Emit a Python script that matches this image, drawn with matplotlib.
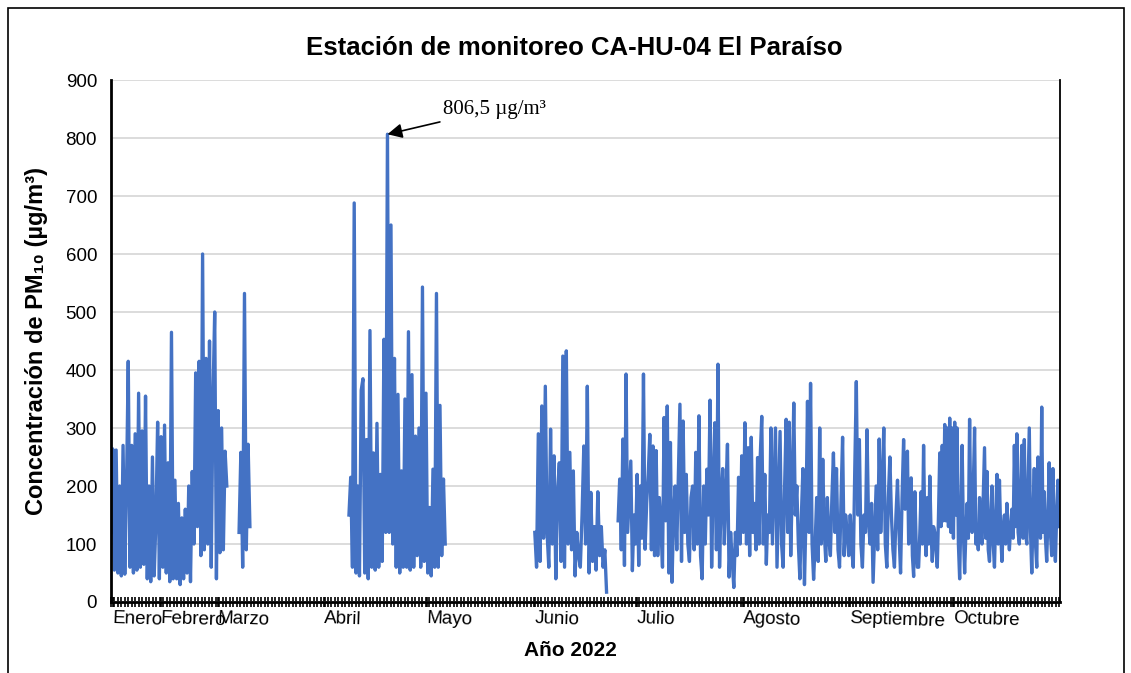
import numpy as np
import matplotlib.pyplot as plt
from matplotlib.patches import Rectangle

plt.rcParams['font.family'] = ['Liberation Sans', 'DejaVu Sans']

# Concentraciones PM10 (ug/m3), por tramos con datos
ene_feb = [120, 264, 55, 262, 50, 200, 45, 270, 48, 200, 415, 60, 270, 50, 290, 55,
           360, 60, 295, 65, 355, 40, 200, 35, 250, 45, 140, 310, 40, 285, 60, 305,
           50, 240, 35, 465, 40, 210, 40, 170, 30, 145, 40, 160, 50, 200, 35, 225,
           100, 395, 130, 415, 80, 600, 90, 420, 100, 450, 60, 350, 500, 40, 330, 85,
           300, 90, 260, 200]
marzo = [120, 258, 60, 532, 90, 272, 130]
abr_may = [150, 215, 60, 688, 50, 200, 45, 365, 385, 50, 280, 40, 468, 60, 257, 55,
           308, 60, 220, 70, 453, 120, 806.5, 120, 650, 100, 420, 60, 358, 50, 226, 60,
           350, 60, 466, 55, 392, 60, 286, 80, 300, 60, 543, 70, 360, 50, 163, 45,
           229, 60, 532, 60, 339, 80, 212, 100]
junio = [120, 60, 290, 70, 338, 110, 372, 120, 60, 298, 100, 252, 40, 190, 240, 70,
         424, 60, 433, 100, 258, 90, 226, 45, 120, 80, 60, 150, 269, 100, 372, 50,
         189, 70, 130, 55, 190, 80, 130, 60, 90, 17]
jul_ago = [140, 212, 90, 281, 63, 393, 120, 180, 243, 54, 150, 100, 220, 63, 200, 110,
           393, 91, 170, 220, 289, 90, 269, 80, 261, 80, 180, 130, 60, 318, 140, 338,
           50, 275, 34, 150, 200, 90, 220, 341, 70, 312, 120, 220, 100, 70, 180, 200,
           90, 258, 100, 321, 80, 40, 200, 100, 229, 150, 348, 60, 200, 309, 90, 410,
           60, 180, 230, 100, 190, 272, 43, 120, 70, 25, 120, 80, 215, 100, 252, 120,
           309, 100, 266, 80, 284, 120, 170, 90, 249, 100]
ago_sep = [250, 320, 100, 220, 65, 150, 120, 300, 100, 200, 300, 60, 180, 294, 100, 60,
           200, 315, 120, 310, 80, 200, 343, 150, 200, 100, 40, 150, 230, 30, 150, 346,
           120, 377, 100, 39, 100, 180, 70, 300, 100, 246, 120, 70, 180, 110, 80, 180,
           257, 120, 230, 90, 60, 180, 284, 80, 150, 120, 80, 150, 90, 60, 230, 380,
           150, 280, 100, 60, 150, 120, 297, 140, 100, 170, 34, 120, 200, 90, 281, 120,
           200, 300, 100, 60, 180, 250, 150, 90, 60, 150, 210, 120, 50, 180, 280, 160]
sep_oct = [200, 260, 100, 150, 214, 80, 44, 190, 100, 60, 60, 120, 190, 100, 270, 120,
           80, 180, 100, 217, 120, 70, 130, 120, 90, 60, 150, 257, 130, 270, 140, 306,
           140, 300, 130, 317, 120, 300, 110, 310, 150, 300, 100, 40, 150, 270, 120, 50,
           120, 170, 110, 315, 140, 120, 200, 300, 100, 120, 90, 180, 120, 100, 180, 266,
           110, 225, 90, 70, 150, 200, 100, 60, 150, 220, 100, 210, 120, 70, 130, 150,
           100, 170, 120, 90, 130, 160, 110, 270, 130, 290, 120, 100, 200, 270, 110, 280,
           120, 100, 200, 300, 120, 50, 150, 230, 100, 60, 250, 130, 110, 336, 120, 190,
           110, 70, 150, 240, 120, 80, 230, 120, 70, 150, 210, 130]

meses = ['Enero', 'Febrero', 'Marzo', 'Abril', 'Mayo', 'Junio', 'Julio',
         'Agosto', 'Septiembre', 'Octubre']
pos_meses = [0.6, 14.3, 30.6, 61.1, 90.3, 121.1, 150.3, 180.6, 211.1, 240.6]

fig = plt.figure(figsize=(11.31, 6.73), dpi=100)
ax = fig.add_axes([0.0981, 0.1055, 0.8391, 0.7756])

color = '#4472C4'
lw = 2.4
ax.plot(np.linspace(0, 33.1, len(ene_feb)), ene_feb, color=color, lw=lw)
ax.plot(np.linspace(36.6, 39.7, len(marzo)), marzo, color=color, lw=lw)
ax.plot(np.linspace(68.0, 95.5, len(abr_may)), abr_may, color=color, lw=lw)
ax.plot(np.linspace(121.1, 141.6, len(junio)), junio, color=color, lw=lw)
x4 = np.concatenate([np.linspace(144.9, 185.2, len(jul_ago)),
                     np.linspace(185.5, 226.9, len(ago_sep)),
                     np.linspace(227.2, 270.9, len(sep_oct))])
ax.plot(x4, jul_ago + ago_sep + sep_oct, color=color, lw=lw)

ax.set_xlim(0, 271.14)
ax.set_ylim(0, 900)
ax.set_yticks(range(0, 901, 100))
ax.grid(axis='y', color='#d9d9d9', lw=1.3)
ax.set_axisbelow(True)
ax.tick_params(axis='y', length=0, pad=10, labelsize=13.5)

ax.set_xticks(pos_meses)
ax.set_xticklabels(meses, fontsize=13.5)
ax.set_xticks(np.arange(0, 271.5, 1.0), minor=True)
ax.tick_params(axis='x', which='both', direction='inout', length=7, width=1.2, pad=2)
for lab in ax.get_xticklabels():
    lab.set_horizontalalignment('left')
    lab.set_rotation(-2)
    lab.set_rotation_mode('anchor')

ax.spines['top'].set_visible(False)
for s in ['left', 'bottom']:
    ax.spines[s].set_linewidth(2)
ax.spines['right'].set_linewidth(1.3)

ax.set_ylabel('Concentración de PM₁₀ (µg/m³)', fontsize=17, fontweight='bold')
ax.yaxis.set_label_coords(-0.066, 0.5)
ax.set_xlabel('Año 2022', fontsize=15, fontweight='bold')
ax.xaxis.set_label_coords(0.484, -0.075)
fig.text(0.508, 0.929, 'Estación de monitoreo CA-HU-04 El Paraíso', ha='center',
         va='center', fontsize=18.5, fontweight='bold')

ax.annotate('806,5 µg/m³', xy=(79.0, 806.5), xytext=(95.0, 850),
            fontsize=15, family='Liberation Serif', va='center', ha='left',
            arrowprops=dict(arrowstyle='-|>', color='black', lw=1.2,
                            mutation_scale=22, shrinkA=2, shrinkB=0))

fig.patches.append(Rectangle((8 / 1131, -0.1), 1116 / 1131, 1.1 - 8 / 673,
                             transform=fig.transFigure, fill=False,
                             edgecolor='black', lw=1.2))

fig.savefig('out.png', dpi=100)
